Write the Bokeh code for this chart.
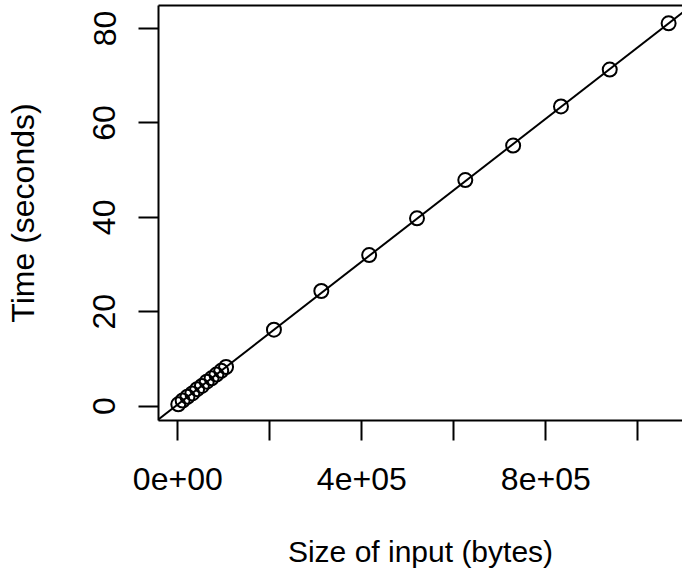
from bokeh.plotting import figure
from bokeh.models import LinearAxis, FixedTicker, Range1d, Slope, ColumnDataSource
from bokeh.embed import file_html
from bokeh.resources import INLINE

# data (bytes, seconds)
sizes = [1000, 10500, 21000, 31500, 42000, 52400, 62900, 73400, 83900, 94400, 104900,
         209000, 312000, 416000, 520000, 625000, 729000, 833000, 939000, 1067000]
times = [0.4, 1.2, 2.0, 2.7, 3.6, 4.3, 5.2, 5.9, 6.7, 7.5, 8.3,
         16.2, 24.4, 32.0, 39.8, 47.9, 55.2, 63.5, 71.3, 81.1]
fit_slope = 7.564e-5
fit_intercept = 0.39

x_ticks = [0, 200000, 400000, 600000, 800000, 1000000]
x_labels = {0: "0e+00", 200000: "", 400000: "4e+05", 600000: "", 800000: "8e+05", 1000000: ""}
y_ticks = [0, 20, 40, 60, 80]
y_labels = {0: "0", 20: "20", 40: "40", 60: "60", 80: "80"}

FONT = "Liberation Sans"
FS = "32px"

p = figure(width=682, height=575, output_backend="svg", toolbar_location=None,
           x_range=Range1d(-41957, 1097170), y_range=Range1d(-3.03, 84.87),
           x_axis_location=None, y_axis_location=None,
           min_border_left=158, min_border_bottom=155, min_border_top=5, min_border_right=0)
p.outline_line_color = None
p.xgrid.visible = False
p.ygrid.visible = False
p.background_fill_color = "white"
p.border_fill_color = "white"

xa = LinearAxis(ticker=FixedTicker(ticks=x_ticks), major_label_overrides=x_labels,
                axis_label="Size of input (bytes)")
ya = LinearAxis(ticker=FixedTicker(ticks=y_ticks), major_label_overrides=y_labels,
                axis_label="Time (seconds)", major_label_orientation="vertical")
for ax in (xa, ya):
    ax.axis_line_width = 2
    ax.axis_line_color = "black"
    ax.major_tick_line_width = 2
    ax.major_tick_line_color = "black"
    ax.major_tick_out = 20
    ax.major_tick_in = 0
    ax.minor_tick_out = 0
    ax.minor_tick_in = 0
    ax.major_label_text_font = FONT
    ax.major_label_text_font_size = FS
    ax.major_label_text_color = "black"
    ax.axis_label_text_font = FONT
    ax.axis_label_text_font_size = FS
    ax.axis_label_text_font_style = "normal"
    ax.axis_label_text_color = "black"
xa.axis_label_text_font_size = "30px"
xa.major_label_standoff = 27
xa.axis_label_standoff = 42
ya.major_label_standoff = 23
ya.axis_label_standoff = 50
p.add_layout(xa, "below")
p.add_layout(ya, "left")

top = LinearAxis(ticker=FixedTicker(ticks=[]), major_label_text_font_size="0px",
                 axis_line_width=2, axis_line_color="black",
                 major_tick_out=0, major_tick_in=0, minor_tick_out=0, minor_tick_in=0,
                 major_label_standoff=0)
p.add_layout(top, "above")

p.add_layout(Slope(gradient=fit_slope, y_intercept=fit_intercept, line_color="black", line_width=2))

src = ColumnDataSource(data=dict(x=sizes, y=times))
p.scatter("x", "y", source=src, marker="circle", size=14, fill_color=None,
          line_color="black", line_width=2)

open("out.html", "w").write(file_html(p, INLINE))
